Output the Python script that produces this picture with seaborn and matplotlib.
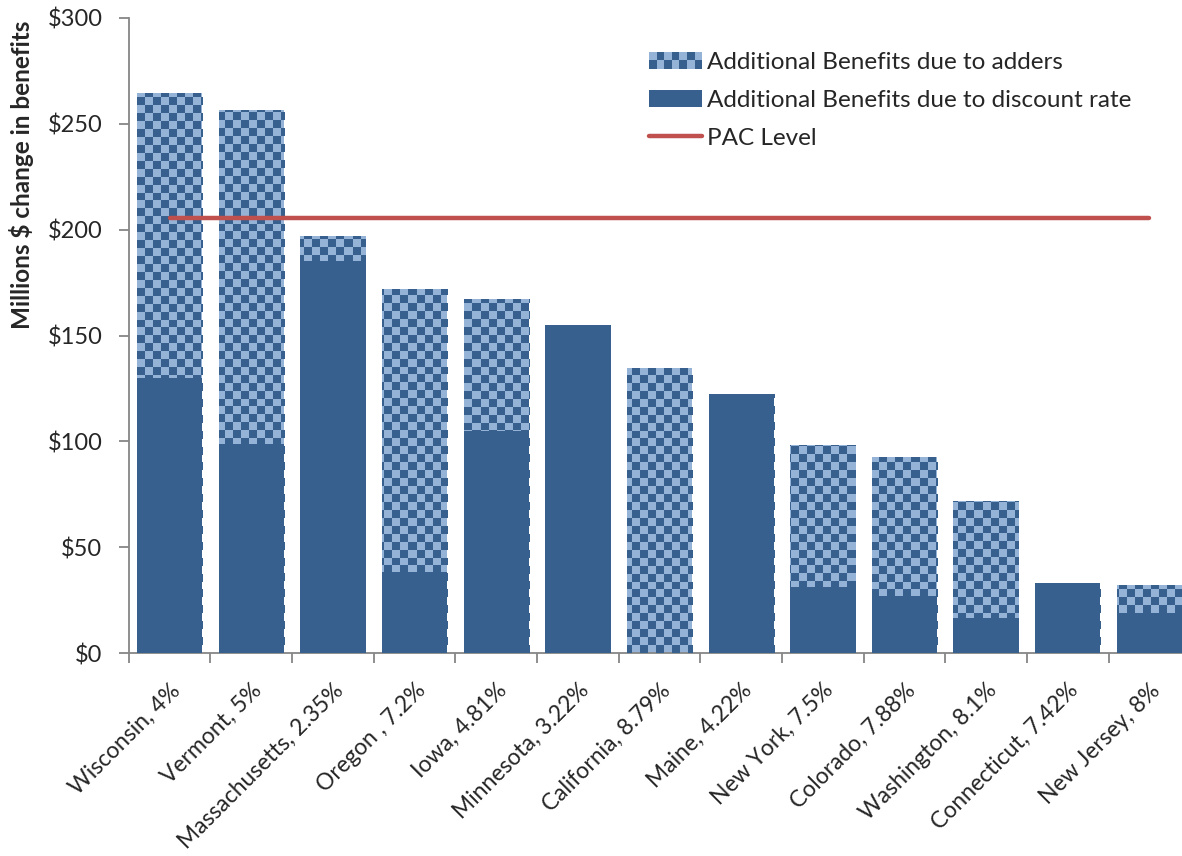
import numpy as np
import pandas as pd
import matplotlib
matplotlib.use("Agg")
import matplotlib.pyplot as plt
import seaborn as sns
from matplotlib.patches import Rectangle
from matplotlib.lines import Line2D
from matplotlib.legend_handler import HandlerBase
from matplotlib.ticker import FixedLocator, FuncFormatter

# Data (millions $)
states = ["Wisconsin, 4%", "Vermont, 5%", "Massachusetts, 2.35%", "Oregon , 7.2%",
          "Iowa, 4.81%", "Minnesota, 3.22%", "California, 8.79%", "Maine, 4.22%",
          "New York, 7.5%", "Colorado, 7.88%", "Washington, 8.1%", "Connecticut, 7.42%",
          "New Jersey, 8%"]
discount_rate = [130, 99, 185, 38.5, 105, 155, 0, 122.5, 31, 27, 16.5, 33, 19]
adders = [134.5, 157.5, 12, 133.5, 62.5, 0, 134.5, 0, 67.5, 65.5, 55.5, 0, 13]
pac_level = [205.5] * len(states)

DARK = "#37608F"
LIGHT = "#95B3D7"
RED = "#C0504D"
GREY = "#868686"

df = pd.DataFrame({"state": states, "discount": discount_rate, "adders": adders})
df["total"] = df["discount"] + df["adders"]

sns.set_style("white")
plt.rcParams["font.family"] = ["Lato", "DejaVu Sans"]

fig = plt.figure(figsize=(11.82, 8.56), dpi=100)
ax = fig.add_axes([0.109, 0.237, 0.898, 0.742])

# total bars (light) get a checker overlay, discount bars on top
sns.barplot(data=df, x="state", y="total", color=LIGHT, saturation=1, width=0.8,
            ax=ax, zorder=2, edgecolor="none")
sns.barplot(data=df, x="state", y="discount", color=DARK, saturation=1, width=0.8,
            ax=ax, zorder=4, edgecolor="none")

n = len(states)

# checkerboard pattern, ~8px squares
nx, ny = 133, 80
ii, jj = np.meshgrid(np.arange(nx), np.arange(ny))
img = np.zeros((ny, nx, 4))
mask = (ii + jj) % 2 == 0
img[mask, :3] = matplotlib.colors.to_rgb(DARK)
img[mask, 3] = 1.0
for patch in ax.containers[0]:
    im = ax.imshow(img, extent=(-0.5, n - 0.5, 0, 300), aspect="auto",
                   interpolation="nearest", zorder=3, origin="lower")
    im.set_clip_path(patch)
ax.set_xlim(-0.5, n - 0.5)
ax.set_ylim(0, 300)

sns.lineplot(x=np.arange(n), y=pac_level, color=RED, linewidth=3.2, ax=ax, zorder=5)

# axes styling
for s in ["top", "right"]:
    ax.spines[s].set_visible(False)
for s in ["left", "bottom"]:
    ax.spines[s].set_color(GREY)
    ax.spines[s].set_linewidth(1.3)

ax.set_yticks(np.arange(0, 301, 50))
ax.yaxis.set_major_formatter(FuncFormatter(lambda v, p: f"${v:.0f}"))
ax.tick_params(axis="y", which="major", direction="out", length=7, width=1.3,
               color=GREY, labelsize=17, pad=12, left=True)
ax.set_xticks(np.arange(n))
ax.set_xticklabels(states, rotation=45, ha="right", rotation_mode="anchor")
ax.tick_params(axis="x", which="major", length=0, labelsize=16.5, pad=19)
ax.xaxis.set_minor_locator(FixedLocator(np.arange(-0.5, n, 1.0)))
ax.tick_params(axis="x", which="minor", direction="out", length=7, width=1.3,
               color=GREY, bottom=True)
ax.set_xlabel("")
ax.set_ylabel("Millions $ change in benefits", fontsize=17.5, fontweight="bold")
ax.yaxis.set_label_coords(-0.089, 0.753)


class CheckerHandler(HandlerBase):
    def create_artists(self, legend, orig_handle, xdescent, ydescent, width, height,
                       fontsize, trans):
        arts = [Rectangle((-xdescent, -ydescent), width, height, facecolor=LIGHT,
                          edgecolor="none", transform=trans)]
        cols, rows = 7, 2
        sw, sh = width / cols, height / rows
        for i in range(cols):
            for j in range(rows):
                if (i + j) % 2 == 0:
                    arts.append(Rectangle((-xdescent + i * sw, -ydescent + j * sh), sw, sh,
                                          facecolor=DARK, edgecolor="none", transform=trans))
        return arts


h_add = Rectangle((0, 0), 1, 1, facecolor=LIGHT)
h_disc = Rectangle((0, 0), 1, 1, facecolor=DARK, edgecolor="none")
h_pac = Line2D([], [], color=RED, linewidth=3.2, solid_capstyle="round")
ax.legend([h_add, h_disc, h_pac],
          ["Additional Benefits due to adders", "Additional Benefits due to discount rate",
           "PAC Level"],
          handler_map={h_add: CheckerHandler()},
          loc="upper left", bbox_to_anchor=(0.49, 0.947), frameon=False, fontsize=17.5,
          handlelength=2.2, handleheight=0.7, handletextpad=0.2, labelspacing=0.7,
          borderaxespad=0, borderpad=0)

fig.savefig("out.png", dpi=100)
